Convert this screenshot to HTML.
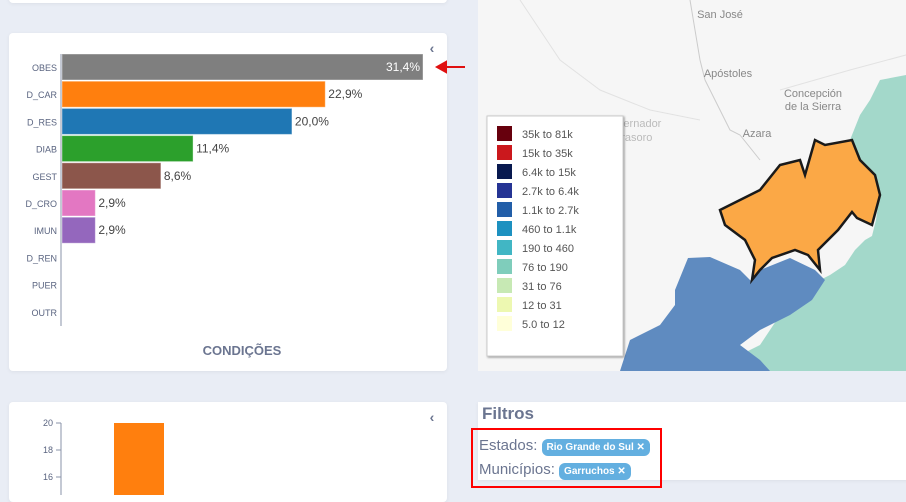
<!DOCTYPE html>
<html><head><meta charset="utf-8"><style>
body{margin:0;width:906px;height:495px;background:#e9edf5;font-family:"Liberation Sans",sans-serif;position:relative;overflow:hidden}
.card{position:absolute;background:#fff;border-radius:4px;box-shadow:0 1px 4px rgba(0,0,0,.06)}
text{font-family:"Liberation Sans",sans-serif}
</style></head><body>
<div class="card" style="left:9px;top:-10px;width:438px;height:13px"></div>
<div class="card" style="left:9px;top:33px;width:438px;height:338px"></div>
<div class="card" style="left:9px;top:402px;width:438px;height:100px"></div>
<svg width="906" height="495" style="position:absolute;left:0;top:0">
<g id="bars"></g>
<text x="242" y="355" text-anchor="middle" font-size="13" font-weight="bold" fill="#6b7590">CONDIÇÕES</text>
<text x="432" y="53" text-anchor="middle" font-size="14" fill="#6b7590" font-weight="bold">‹</text>
<path d="M437 67 L465 67 M437 67 L446 62 L446 72 Z" stroke="#e01010" stroke-width="2" fill="#e01010"/>
<g id="bars2"></g>
<text x="432" y="422" text-anchor="middle" font-size="14" fill="#6b7590" font-weight="bold">‹</text>
<!-- map -->
<g>
<rect x="478" y="0" width="428" height="371" fill="#f6f6f6"/>
<path d="M690 0 L700 60 L705 80 L720 110 L730 130 L740 135 L760 160" stroke="#ccc" fill="none"/>
<path d="M520 0 L560 60 L600 90 L650 110 L700 120" stroke="#e2e2e2" fill="none"/>
<path d="M906 55 L850 70 L780 90" stroke="#e2e2e2" fill="none"/>
<path d="M906 75 L880 80 L870 100 L860 115 L850 140 L862 165 L880 190 L876 220 L872 236 L865 240 L855 250 L845 265 L830 275 L820 280 L812 300 L780 315 L760 345 L740 355 L760 371 L906 371 Z" fill="#a3d8ca"/>
<path d="M688 258 L710 257 L740 270 L752 282 L760 270 L790 258 L815 270 L825 280 L812 300 L790 315 L760 330 L740 345 L760 360 L770 371 L620 371 L630 340 L660 325 L675 305 L675 290 Z" fill="#5f8bc0" stroke="#222" stroke-width="0"/>
<path d="M720 210 L760 190 L780 165 L800 160 L805 175 L815 140 L825 145 L852 140 L860 160 L875 175 L880 195 L872 225 L857 218 L852 212 L838 230 L818 250 L820 270 L808 255 L795 250 L772 258 L760 270 L752 280 L755 260 L745 240 L725 225 Z" fill="#fba846" stroke="#1a1a1a" stroke-width="2.5"/>
<text x="720" y="18" text-anchor="middle" font-size="11" fill="#888">San José</text>
<text x="728" y="77" text-anchor="middle" font-size="11" fill="#888">Apóstoles</text>
<text x="813" y="97" text-anchor="middle" font-size="11" fill="#888">Concepción</text>
<text x="813" y="110" text-anchor="middle" font-size="11" fill="#888">de la Sierra</text>
<text x="757" y="137" text-anchor="middle" font-size="11" fill="#888">Azara</text>
<text x="632" y="127" text-anchor="middle" font-size="11" fill="#bbb">Gobernador</text>
<text x="632" y="141" text-anchor="middle" font-size="11" fill="#bbb">Virasoro</text>
</g>
<g>
<rect x="487" y="116" width="136" height="240" fill="#fff" stroke="#ccc" style="filter:drop-shadow(1px 1px 1px rgba(0,0,0,.4))"/>
<g id="legend"></g>
</g>
</svg>
<div class="card" style="left:478px;top:402px;width:440px;height:78px;border-radius:0">
<div style="position:absolute;left:4px;top:2px;font-size:17px;font-weight:bold;color:#6b7590">Filtros</div>
<div style="position:absolute;left:1px;top:33px;font-size:15px;color:#6b7590;line-height:22px">
<div>Estados: <span style="background:#63afe0;color:#fff;font-size:10px;font-weight:bold;border-radius:6px;padding:3px 5px">Rio Grande do Sul ✕</span></div>
<div>Municípios: <span style="background:#63afe0;color:#fff;font-size:10px;font-weight:bold;border-radius:6px;padding:3px 5px">Garruchos ✕</span></div>
</div></div>
<div style="position:absolute;left:471px;top:428px;width:187px;height:56px;border:2px solid #f00"></div>
<script>
const categories=["OBES","D_CAR","D_RES","DIAB","GEST","D_CRO","IMUN","D_REN","PUER","OUTR"];
const values=[31.4,22.9,20.0,11.4,8.6,2.9,2.9,0,0,0];
const colors=["#7f7f7f","#ff7f0e","#1f77b4","#2ca02c","#8c564b","#e377c2","#9467bd","#bcbd22","#17becf","#aaa"];
const bar2Ticks=[16,18,20];
const bar2Values=[20];
const legendLabels=["35k to 81k","15k to 35k","6.4k to 15k","2.7k to 6.4k","1.1k to 2.7k","460 to 1.1k","190 to 460","76 to 190","31 to 76","12 to 31","5.0 to 12"];
const legendColors=["#67000d","#cb181d","#08194f","#253494","#225ea8","#1d91c0","#41b6c4","#7fcdbb","#c7e9b4","#edf8b1","#ffffd9"];
const NS="http://www.w3.org/2000/svg";
function mk(t,a,p){const e=document.createElementNS(NS,t);for(const k in a)e.setAttribute(k,a[k]);p.appendChild(e);return e;}
const x0=62,xs=v=>x0+v*(361/31.4),rowY=i=>54+i*27.2;
const g=document.getElementById('bars');
categories.forEach((c,i)=>{
 const y=rowY(i);
 const t=mk('text',{x:57,y:y+17,'text-anchor':'end','font-size':9,fill:'#5a6480'},g);t.textContent=c;
 
 
 if(values[i]>0){
  const r=mk('rect',{x:x0,y:y,width:xs(values[i])-x0,height:26,fill:colors[i],stroke:'rgba(255,255,255,.4)'},g);
  
  
  const lbl=values[i].toFixed(1).replace('.',',')+'%';
  const inside=i===0;
  const l=mk('text',{x:inside?xs(values[i])-3:xs(values[i])+3,y:y+17,'text-anchor':inside?'end':'start','font-size':12,fill:inside?'#fff':'#444'},g);l.textContent=lbl;
  
  
 }
});
const ax=mk('line',{x1:61,y1:54,x2:61,y2:326,stroke:'#8a93a8','stroke-width':1},g);


const g2=document.getElementById('bars2');
const ys2=v=>423+(20-v)*13.5;
const ax2=mk('line',{x1:61,y1:423,x2:61,y2:495,stroke:'#8a93a8'},g2);


bar2Ticks.forEach(v=>{
 mk('line',{x1:56,x2:61,y1:ys2(v),y2:ys2(v),stroke:'#8a93a8'},g2);
 const t=mk('text',{x:53,y:ys2(v)+3,'text-anchor':'end','font-size':9,fill:'#5a6480'},g2);t.textContent=v;
 
 
});
bar2Values.forEach(v=>{
 const r=mk('rect',{x:114,y:ys2(v),width:50,height:495-ys2(v),fill:'#ff7f0e'},g2);
 
 
});
const lg=document.getElementById('legend');
legendLabels.forEach((l,i)=>{
 const y=126+i*19;
 mk('rect',{x:497,y:y,width:15,height:15,fill:legendColors[i]},lg);
 const t=mk('text',{x:522,y:y+12,'font-size':11,fill:'#555'},lg);t.textContent=l;
 
 
});
</script>
</body></html>
